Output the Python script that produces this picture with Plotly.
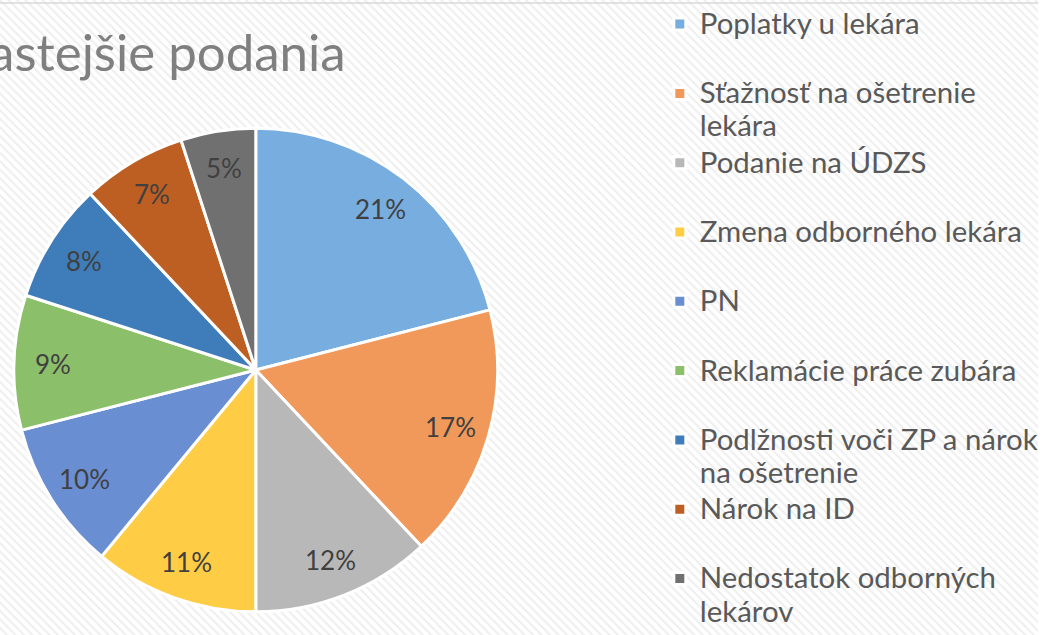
import math
import plotly.graph_objects as go

labels = ["Poplatky u lekára", "Sťažnosť na ošetrenie<br>lekára", "Podanie na ÚDZS",
          "Zmena odborného lekára", "PN", "Reklamácie práce zubára",
          "Podlžnosti voči ZP a nárok<br>na ošetrenie", "Nárok na ID",
          "Nedostatok odborných<br>lekárov"]
values = [21, 17, 12, 11, 10, 9, 8, 7, 5]
colors = ["#78ADDF", "#F1995A", "#B8B8B8", "#FFCD45", "#6A8ED2",
          "#8CBF69", "#3F7DBA", "#BD5E22", "#707070"]
title_text = "Najčastejšie podania"

W, H = 1043, 635
cx, cy, r = 257, 370, 243
label_k = 0.84

# legend entries: larger glyphs on a smaller line pitch, single-line names padded to two lines
def leg(lbl):
    parts = lbl.split("<br>")
    if len(parts) == 1:
        parts.append(" ")
    return "<br>".join(f'<span style="font-size:29.4px">{p}</span>' for p in parts)

leg_labels = [leg(l) for l in labels]

fig = go.Figure()

# hatched background
fig.add_trace(go.Scatter(
    x=[0, 1, 1, 0, 0], y=[0, 0, 1, 1, 0], mode="lines", fill="toself",
    line=dict(width=0), fillcolor="white",
    fillpattern=dict(shape="\\", fgcolor="#dedede", bgcolor="white", size=6, solidity=0.35),
    hoverinfo="skip", showlegend=False))

fig.add_trace(go.Pie(
    labels=leg_labels, values=values, sort=False, direction="clockwise", rotation=0,
    marker=dict(colors=colors, line=dict(color="white", width=3)),
    textinfo="none",
    domain=dict(x=[(cx - r) / W, (cx + r) / W], y=[(H - cy - r) / H, (H - cy + r) / H]),
    showlegend=True, hovertemplate="%{percent}<extra></extra>"))

# percentage labels placed at each slice's mid-angle
total = sum(values)
annotations = []
cum = 0
for v in values:
    mid = (cum + v / 2) / total * 2 * math.pi
    cum += v
    px = cx + label_k * r * math.sin(mid)
    py = cy - label_k * r * math.cos(mid)
    annotations.append(dict(text=f"{round(100 * v / total)}%", xref="paper", yref="paper",
                            x=px / W, y=1 - py / H, xanchor="center", yanchor="middle",
                            showarrow=False,
                            font=dict(family="Lato", size=26, color="#404040")))

annotations.append(dict(text=title_text, xref="paper", yref="paper",
                        x=350 / W, y=1 - 52 / H, xanchor="right", yanchor="middle",
                        showarrow=False, font=dict(family="Lato", size=51, color="#7f7f7f")))

fig.update_layout(
    width=W, height=H, margin=dict(l=0, r=0, t=0, b=0),
    paper_bgcolor="white", plot_bgcolor="white",
    xaxis=dict(range=[0, 1], visible=False, domain=[0, 1], fixedrange=True),
    yaxis=dict(range=[0, 1], visible=False, domain=[0, 1], fixedrange=True),
    legend=dict(x=663 / W, xanchor="left", y=1 - 17 / H, yanchor="top", maxheight=900,
                valign="top", font=dict(family="Lato", size=25.5, color="#595959"),
                bgcolor="rgba(0,0,0,0)", tracegroupgap=0),
    annotations=annotations,
    shapes=[dict(type="line", xref="paper", yref="paper", x0=0, x1=1,
                 y0=1 - 3 / H, y1=1 - 3 / H, line=dict(color="#d9d9d9", width=1.5))],
)

fig.write_html("out.html")
